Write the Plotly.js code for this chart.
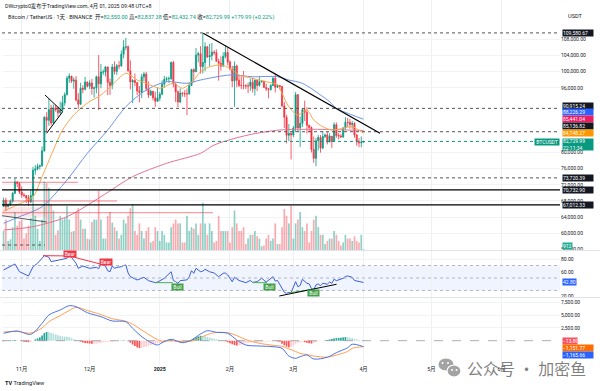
<!DOCTYPE html>
<html><head><meta charset="utf-8">
<script src="https://cdn.plot.ly/plotly-3.0.1.min.js"></script>
<style>html,body{margin:0;padding:0;background:#fff;}#chart{width:600px;height:391px;}</style>
</head><body><div id="chart"></div>
<script>
// ---------------- DATA ----------------
const firstDay = [2024, 9, 24]; // 2024-10-24, daily candles to 2025-04-01
const open = [
 66650,68150,66600,67000,67950,69900,72700,72350,
 70200,69500,69350,68750,67800,69350,75600,75900,76550,76700,80400,88700,87950,90600,87300,91050,90600,89850,90450,92300,94300,98350,98900,97650,97900,93000,91950,95900,95650,97450,
 96400,97200,95850,96000,98750,97000,99900,99900,101150,97350,96600,101150,100050,101450,101400,104300,106050,106150,100200,97450,97800,97300,95200,94900,98700,99400,95800,94200,95150,93550,92650,
 93450,94400,96900,98100,98250,98300,102250,96950,95050,92500,94700,94550,94500,94500,96550,100500,99950,104100,104450,101250,102250,106150,103650,103950,104800,104700,102550,102050,101350,103750,104750,
 102400,100650,97700,101400,97900,96600,96550,96500,96450,96450,97400,95800,97850,96600,97500,97600,96100,95750,95550,96600,98350,96150,96600,96300,91550,88700,84250,84700,
 84350,86050,94300,86100,87200,90600,89950,86750,86150,80750,78550,82900,83700,81100,83950,84350,82600,84050,82700,86850,84200,84100,83850,86100,87500,87450,86900,87200,84350,82650,82400,
 82550];
const high = [
 68850,68800,67450,68400,70250,73600,72950,72700,
 71600,70000,69400,69500,70600,76450,76900,77250,77000,81500,89000,89950,93250,91800,91850,91800,91450,92600,94000,94900,98950,99600,98950,98550,98900,94650,97250,96650,98700,97500,
 97850,98200,96300,99000,104100,101900,100550,101400,101250,98300,101900,102550,101900,102650,105250,107800,108350,106500,102800,98150,99550,97450,96450,99450,99950,99950,97550,95550,95200,95000,96200,
 94950,97850,98950,98750,98800,102500,102700,97250,95350,95850,95000,95400,95850,97350,100700,100800,105850,104950,106300,109580,107250,106400,106850,107100,105300,105500,103200,103750,104800,106450,106000,
 102800,101450,102500,101750,99000,99150,100150,96900,97300,98300,98500,98100,98000,98800,97950,97700,97000,96000,96900,98700,99500,96900,96650,96500,92500,89300,87050,85100,
 86550,95000,94400,88900,91000,92800,91200,86850,86450,83950,83600,84350,84300,85300,84650,85100,84750,84050,87450,87450,84800,84550,86150,88750,88550,88300,87800,87500,84600,83550,83950,
 82837.38];
const low = [
 66500,65500,66450,66750,67550,69700,71450,69700,
 68800,68900,67500,66800,67500,69350,74500,75600,75800,76500,80200,85100,86600,86700,87050,90100,88750,89400,90350,91550,94100,97200,97200,95750,92600,90800,91800,94650,95350,96100,
 95700,94300,93600,94650,90500,95900,99200,98800,94200,94250,95650,99300,99200,100600,101250,103300,105300,100000,95600,92200,96400,94200,92400,93450,97600,95150,93500,94000,92900,91300,92550,
 92700,94200,96000,97500,97250,97900,96100,92500,91200,92200,93800,93700,89250,94300,96500,97300,99950,102300,99500,99550,100100,103350,101250,102750,104100,102500,97750,100250,101300,103300,101550,
 100300,96150,91250,96150,96200,95700,95600,95700,94700,95250,94850,94100,95200,96300,97250,96050,95200,93400,95300,96450,94850,95950,95600,91200,86050,82250,82800,78250,
 83800,85050,85100,81400,86300,87800,84700,85000,80000,77450,76600,80550,79950,80800,83600,82000,82500,81150,82600,83650,83200,83650,83600,85550,86300,85900,85850,83650,81650,81300,81300,
 82432.74];
const close = [
 68150,66600,67000,67950,69900,72700,72350,70200,
 69500,69350,68750,67800,69350,75600,75900,76550,76700,80400,88700,87950,90600,87300,91050,90600,89850,90450,92300,94300,98350,98900,97650,97900,93000,91950,95900,95650,97450,96400,
 97200,95850,96000,98750,97000,99900,99900,101150,97350,96600,101150,100050,101450,101400,104300,106050,106150,100200,97450,97800,97300,95200,94900,98700,99400,95800,94200,95150,93550,92650,93450,
 94400,96900,98100,98250,98300,102250,96950,95050,92500,94700,94550,94500,94500,96550,100500,99950,104100,104450,101250,102250,106150,103650,103950,104800,104700,102550,102050,101350,103750,104750,102400,
 100650,97700,101400,97900,96600,96550,96500,96450,96450,97400,95800,97850,96600,97500,97600,96100,95750,95550,96600,98350,96150,96600,96300,91550,88700,84250,84700,84350,
 86050,94300,86100,87200,90600,89950,86750,86150,80750,78550,82900,83700,81100,83950,84350,82600,84050,82700,86850,84200,84100,83850,86100,87500,87450,86900,87200,84350,82650,82400,82550,
 82729.99];
const volume = [
 25000,40000,12000,14000,30000,50000,32000,38000,
 40000,15000,22000,32000,42000,85000,45000,28000,12000,40000,90000,88000,82000,60000,52000,20000,26000,45000,40000,42000,58000,40000,24000,25000,50000,55000,40000,28000,28000,15000,
 14000,37000,40000,40000,78000,40000,15000,15000,45000,50000,36000,30000,25000,15000,20000,40000,35000,45000,55000,60000,25000,20000,35000,25000,15000,25000,30000,10000,12000,30000,25000,
 12000,25000,20000,10000,10000,30000,35000,40000,35000,35000,10000,10000,45000,25000,30000,28000,35000,20000,35000,62000,35000,20000,35000,25000,10000,12000,45000,25000,25000,25000,25000,
 10000,30000,52000,35000,25000,25000,30000,8000,15000,20000,20000,25000,18000,15000,5000,6000,15000,20000,12000,15000,35000,8000,8000,30000,54000,45000,35000,58000,
 15000,35000,40000,50000,30000,25000,35000,10000,25000,40000,45000,30000,20000,20000,8000,12000,15000,15000,25000,20000,12000,6000,10000,20000,15000,15000,12000,18000,12000,10000,20000,
 912];
const macdHist = [
 -100,-50,0,50, 100,150,100,0, -100,-200,-260,-280,-250, 0,250,450,650,1000, 1500,1700,1650,
 1500,1400,1200,1050,950,850,800,750, 700,500,300,150,50,
 -200,-350,-450,-500,-550,-600,-600,-550,-500,-400,
 -300,-250,-200,-150,-150,-100,-50,0,50,100,80,
 -100,-400,-750,-1050,-1300,-1430,-1400,-1300,-1150,-1000,-850,-700,
 -600,-500,-400,-300,-200,-100,0,100,
 0,-150,-250,-300,-280,-220,-150,-50,
 150,400,650,850,950,920,850,750,
 600,500,400,300,200,100,50,
 -100,-300,-500,-700,-850,-950,-900,-800,-650,-500,-400,
 -350,-300,-280,-250,-220,-200,-180,-150,-150,-120,-100,-100,-150,-200,
 -600,-900,-1150,-1300,-1250,
 -1000,-600,-400,-300,-200,-300,-400,-500,
 -550,-450, -300,-150,-50,0,80,
 150,250,350,450,500,550,600,650,700,680,
 600,500,380,250,120,40,-13.89];
const macdDates = ['2024-10-24','2024-10-30','2024-11-05','2024-11-10','2024-11-13','2024-11-18','2024-11-22','2024-11-25','2024-11-30','2024-12-06','2024-12-11','2024-12-17','2024-12-20','2024-12-25','2024-12-31','2025-01-02','2025-01-06','2025-01-11','2025-01-15','2025-01-19','2025-01-22','2025-01-26','2025-01-31','2025-02-04','2025-02-08','2025-02-14','2025-02-20','2025-02-24','2025-02-27','2025-03-02','2025-03-04','2025-03-07','2025-03-10','2025-03-16','2025-03-20','2025-03-25','2025-03-27','2025-04-01'];
const macdLine = [1445,1900,1250,3400,5020,6000,6840,6640,5470,4690,3850,3710,2420,470,-840,-390,270,-390,140,1310,1950,1640,1445,140,-840,-1035,-1170,-1490,-2990,-3440,-3125,-2790,-3570,-3240,-2340,-1370,-700,-1165.66];
const signalLine = [1700,1800,1500,2500,3700,4900,5900,6520,5900,5100,4300,3800,3200,1800,200,-100,0,-200,-100,600,1200,1600,1550,1000,200,-500,-900,-1100,-1600,-2100,-2500,-2700,-3000,-3200,-2800,-2100,-1500,-1151.77];
const rsiDates = ['2024-10-24','2024-10-29','2024-10-31','2024-11-04','2024-11-06','2024-11-08','2024-11-11','2024-11-13','2024-11-14','2024-11-18','2024-11-21','2024-11-22','2024-11-23','2024-11-25','2024-11-26','2024-11-28','2024-12-01','2024-12-04','2024-12-05','2024-12-06','2024-12-08','2024-12-09','2024-12-10','2024-12-11','2024-12-12','2024-12-13','2024-12-15','2024-12-16','2024-12-17','2024-12-18','2024-12-19','2024-12-22','2024-12-24','2024-12-25','2024-12-27','2024-12-30','2024-12-31','2025-01-03','2025-01-06','2025-01-07','2025-01-08','2025-01-09','2025-01-10','2025-01-13','2025-01-14','2025-01-15','2025-01-16','2025-01-17','2025-01-19','2025-01-20','2025-01-21','2025-01-23','2025-01-25','2025-01-27','2025-01-29','2025-01-30','2025-01-31','2025-02-02','2025-02-03','2025-02-05','2025-02-08','2025-02-10','2025-02-11','2025-02-13','2025-02-15','2025-02-17','2025-02-20','2025-02-21','2025-02-22','2025-02-24','2025-02-25','2025-02-26','2025-02-27','2025-02-28','2025-03-02','2025-03-03','2025-03-04','2025-03-05','2025-03-06','2025-03-07','2025-03-08','2025-03-09','2025-03-10','2025-03-11','2025-03-12','2025-03-13','2025-03-14','2025-03-16','2025-03-17','2025-03-18','2025-03-19','2025-03-20','2025-03-23','2025-03-24','2025-03-25','2025-03-27','2025-03-28','2025-03-30','2025-04-01'];
const rsiValues = [62.8,72.5,60.1,53.2,68.1,73.6,85.8,83.2,76.2,78.9,81.6,85.3,83.0,73.6,65.5,69.2,65.5,67.1,65.0,72.5,69.0,61.7,60.0,69.2,65.5,67.0,68.1,70.0,70.9,58.0,52.1,46.8,50.0,51.0,45.7,42.5,43.5,49.5,60.1,46.0,44.1,41.5,45.7,47.0,52.0,61.7,57.5,65.5,60.1,61.0,63.9,60.0,58.0,52.1,57.5,58.0,54.8,44.1,51.1,46.0,42.5,46.0,43.0,44.1,49.5,43.5,52.1,45.0,46.0,31.9,27.0,25.4,27.0,26.4,44.1,36.0,38.0,47.9,45.0,41.5,40.5,33.0,30.7,39.0,40.4,37.5,41.5,40.0,43.6,41.5,48.0,45.7,49.5,52.5,53.2,51.1,46.0,44.1,42.8];
const maFastDates = ['2024-10-24','2024-10-31','2024-11-06','2024-11-10','2024-11-15','2024-11-19','2024-11-24','2024-11-30','2024-12-06','2024-12-11','2024-12-17','2024-12-22','2024-12-26','2025-01-01','2025-01-07','2025-01-11','2025-01-16','2025-01-19','2025-01-23','2025-01-28','2025-02-01','2025-02-05','2025-02-11','2025-02-17','2025-02-22','2025-02-24','2025-02-27','2025-03-03','2025-03-07','2025-03-10','2025-03-14','2025-03-18','2025-03-23','2025-03-27','2025-04-01'];
const maFast = [65500,67300,69059,74007,80613,85561,89272,92241,94220,96694,99588,97931,97114,95877,97114,95877,97931,99984,101221,101642,100825,99168,98351,97510,96694,94640,91325,89272,90509,88035,86377,85561,85981,86377,84748.27];
const maMidDates = ['2024-10-24','2024-10-31','2024-11-10','2024-11-21','2024-11-30','2024-12-09','2024-12-17','2024-12-26','2025-01-04','2025-01-13','2025-01-19','2025-02-01','2025-02-11','2025-02-22','2025-02-27','2025-03-05','2025-03-13','2025-03-17','2025-03-20','2025-03-27','2025-04-01'];
const maMid = [62478,64111,66585,73191,79796,85561,91325,95457,97510,97114,97931,99168,98747,98747,97931,97114,94220,92562,90929,89272,88226.29];
const maSlowDates = ['2024-10-24','2024-11-06','2024-11-21','2024-12-06','2024-12-20','2025-01-04','2025-01-19','2025-01-25','2025-02-09','2025-02-23','2025-03-10','2025-03-25','2025-04-01'];
const maSlow = [60821,61637,64111,69059,74007,77322,79796,81850,84324,85561,85734,85561,85441.04];
const levelDotted = [109580.67, 90915.24, 85136.82, 73720.39];
const levelSolid = [70732.90, 67012.33];
const lastPrice = 82729.99;
const monthTicks = ['2024-11-01','2024-12-01','2025-01-01','2025-02-01','2025-03-01','2025-04-01','2025-05-01','2025-06-01'];
const monthLabels = ['11月','12月','<b>2025</b>','2月','3月','4月','5月','6月'];
const priceTicks = [56000,60000,64000,68000,72000,76000,80000,96000,100000,104000,108000];
const rsiTicks = [20,60,80];
const macdTicks = [2500,5000,7500];

// ---------------- BUILD ----------------
const dates = close.map((_, i) => {
  const d = new Date(Date.UTC(firstDay[0], firstDay[1], firstDay[2] + i));
  return d.toISOString().slice(0, 10);
});
const L=2,R=40,T=0,B=26,W=600,H=391;
const PW=W-L-R, PH=H-T-B;
const px = x => (x-L)/PW;
const py = y => (T+PH-y)/PH;
const FONT = 'Roboto, "Noto Sans CJK SC", sans-serif';
const UP='#089981', DN='#f23645';

const volColors = close.map((c,i)=> c>=open[i] ? 'rgba(8,153,129,0.45)' : 'rgba(242,54,69,0.42)');
const histColors = macdHist.map((h,i)=>{
  const p = i>0 ? macdHist[i-1] : 0;
  if (h>=0) return h>=p ? '#26a69a' : '#b2dfdb';
  return h<p ? '#ff5252' : '#ffcdd2';
});

const traces = [
  {type:'bar', x:dates, y:volume, yaxis:'y', marker:{color:volColors}, hoverinfo:'skip'},
  {type:'bar', x:dates, y:macdHist, yaxis:'y3', marker:{color:histColors}, hoverinfo:'skip'},
  {type:'scatter', mode:'lines', x:macdDates, y:signalLine, yaxis:'y3', line:{color:'#ff9f50', width:1, shape:'spline', smoothing:0.9}},
  {type:'scatter', mode:'lines', x:macdDates, y:macdLine, yaxis:'y3', line:{color:'#4a73e8', width:1, shape:'spline', smoothing:0.9}},
  {type:'scatter', mode:'lines', x:rsiDates, y:rsiValues, yaxis:'y2', line:{color:'#3a5fd9', width:1}},
  {type:'scatter', mode:'lines', x:maSlowDates, y:maSlow, yaxis:'y4', line:{color:'#e5738f', width:1, shape:'spline', smoothing:0.8}},
  {type:'scatter', mode:'lines', x:maMidDates, y:maMid, yaxis:'y4', line:{color:'#6e93e8', width:1, shape:'spline', smoothing:0.8}},
  {type:'scatter', mode:'lines', x:maFastDates, y:maFast, yaxis:'y4', line:{color:'#f7a94f', width:1, shape:'spline', smoothing:0.8}},
  {type:'candlestick', x:dates, open:open, high:high, low:low, close:close, yaxis:'y4',
   increasing:{line:{color:UP,width:0.8}, fillcolor:UP}, decreasing:{line:{color:DN,width:0.8}, fillcolor:DN},
   whiskerwidth:0, hoverinfo:'skip'}
];

const shapes = [];
[250.5, 297.5].forEach(y=>shapes.push({type:'line', xref:'paper', yref:'paper', x0:px(0), x1:px(600), y0:py(y), y1:py(y), line:{color:'#e0e3eb', width:1}}));
levelDotted.forEach(v=>shapes.push({type:'line', xref:'paper', yref:'y4', x0:0, x1:1, y0:v, y1:v, line:{color:'#50535e', width:1, dash:'dot'}}));
levelSolid.forEach(v=>shapes.push({type:'line', xref:'paper', yref:'y4', x0:0, x1:1, y0:v, y1:v, line:{color:'#000000', width:1.2}}));
shapes.push({type:'line', xref:'paper', yref:'y4', x0:0, x1:1, y0:lastPrice, y1:lastPrice, line:{color:UP, width:1, dash:'dot'}});
const seg = (x0,y0,x1,y1,color,width,dash,yref)=>({type:'line', xref:'x', yref:yref||'y4', x0,y0,x1,y1, line:{color, width, dash:dash||'solid'}});
shapes.push(seg('2025-01-20 05:00',109484,'2025-04-08 07:00',84744,'#000',1.2));
shapes.push(seg('2024-11-11 07:00',94220,'2024-11-19 02:00',90088,'#000',1));
shapes.push(seg('2024-11-19 02:00',90088,'2024-11-12 00:00',84744,'#000',1));
shapes.push(seg('2024-10-23 08:00',72622,'2024-11-25 22:00',72622,'rgba(242,54,69,0.6)',1));
shapes.push(seg('2024-10-23 08:00',68000,'2024-12-13 02:00',68000,'rgba(242,54,69,0.6)',1));
shapes.push(seg('2024-10-23 08:00',65100,'2025-01-24 12:00',65100,'rgba(242,54,69,0.6)',1));
shapes.push({type:'rect', xref:'x', yref:'y4', x0:'2024-10-23 08:00', x1:'2024-11-12 00:00', y0:64100, y1:66500, fillcolor:'rgba(242,54,69,0.12)', line:{width:0}});
shapes.push(seg('2024-10-23 08:00',64357,'2024-11-12 00:00',62800,'#333',0.8));
shapes.push(seg('2024-10-23 08:00',57110,'2024-11-11 07:00',57110,'#333',0.8,'dot'));
shapes.push({type:'rect', xref:'paper', yref:'y2', x0:0, x1:1, y0:30, y1:70, fillcolor:'rgba(41,98,255,0.07)', line:{width:0}, layer:'below'});
[70,50,30].forEach(v=>shapes.push({type:'line', xref:'paper', yref:'y2', x0:0, x1:1, y0:v, y1:v, line:{color:'#a3a6af', width:0.8, dash:'dot'}}));
shapes.push(seg('2024-11-10 10:00',85.8,'2024-11-23 05:00',85.3,'#f23645',1,null,'y2'));
shapes.push(seg('2024-11-23 05:00',84.2,'2024-12-05 14:00',72.5,'#f23645',1,null,'y2'));
shapes.push(seg('2024-12-29 22:00',42.5,'2025-01-06 19:00',42.5,'#4caf50',1,null,'y2'));
shapes.push(seg('2025-02-11 05:00',42.5,'2025-02-17 07:00',42.5,'#4caf50',1,null,'y2'));
shapes.push(seg('2025-02-27 12:00',26.4,'2025-03-09 19:00',31.9,'#4caf50',1,null,'y2'));
shapes.push(seg('2025-02-22 19:00',21.1,'2025-03-20 02:00',39.9,'#000',1,null,'y2'));
shapes.push({type:'line', xref:'paper', yref:'y3', x0:0, x1:1, y0:0, y1:0, line:{color:'#9598a1', width:0.8, dash:'dash'}});
// watermark icon
shapes.push({type:'circle', xref:'paper', yref:'paper', x0:px(438), x1:px(454), y0:py(371), y1:py(358), fillcolor:'#a3a3a3', line:{color:'#ffffff', width:1}});
shapes.push({type:'circle', xref:'paper', yref:'paper', x0:px(447), x1:px(461), y0:py(377), y1:py(365), fillcolor:'#a3a3a3', line:{color:'#ffffff', width:1.2}});
[[442.5,363],[448,363],[452,370],[456.5,370]].forEach(p=>shapes.push({type:'circle', xref:'paper', yref:'paper', x0:px(p[0]-1), x1:px(p[0]+1), y0:py(p[1]+1), y1:py(p[1]-1), fillcolor:'#ffffff', line:{width:0}}));

const ann = [];
const label = (text, x, y, bg, opts={}) => ann.push(Object.assign({xref:'paper', yref:'paper', x:px(x), y:py(y), xanchor:'left', yanchor:'middle', text, showarrow:false, bgcolor:bg, borderpad:0, height:6, font:{size:5, color:'#ffffff', family:FONT}, align:'left', valign:'middle'}, opts));
label('109,580.67', 562, 33.3, '#131722', {width:30});
label('90,915.24', 562, 106, '#131722', {width:30});
label('88,226.29', 562, 112.2, '#2962ff', {width:30});
label('85,441.04', 562, 118.9, '#e91e63', {width:30});
label('85,136.82', 562, 125.6, '#131722', {width:30});
label('84,748.27', 562, 132.6, '#ff9800', {width:30});
label('82,729.99<br>22:11:34', 562, 144.5, UP, {width:30, height:11});
label('BTCUSDT', 560, 142, UP, {xanchor:'right', width:24, align:'center'});
label('73,720.39', 562, 178.3, '#131722', {width:30});
label('70,732.90', 562, 190, '#131722', {width:30});
label('67,012.33', 562, 205, '#131722', {width:30});
label('912', 562, 246.5, '#22ab94', {width:9});
label('42.80', 562, 282.4, '#2962ff', {width:13});
label('−13.89', 562, 340.7, '#f7525f', {width:14});
label('−1,151.77', 562, 347.7, '#ff6d00', {width:30});
label('−1,165.66', 562, 354.7, '#2962ff', {width:30});
label('Bear', 70, 253.5, '#f23645', {xanchor:'center', width:12, align:'center'});
label('Bear', 105.5, 261.7, '#f23645', {xanchor:'center', width:12, align:'center'});
label('Bull', 177.5, 286.7, '#43a047', {xanchor:'center', width:11, align:'center'});
label('Bull', 269, 286.7, '#43a047', {xanchor:'center', width:11, align:'center'});
label('Bull', 313, 293.3, '#43a047', {xanchor:'center', width:11, align:'center'});
const txt = (text, x, y, size, color, extra={}) => ann.push(Object.assign({xref:'paper', yref:'paper', x:px(x), y:py(y), xanchor:'left', yanchor:'middle', text, showarrow:false, font:{size, color, family:FONT}}, extra));
const g = s => '<span style="color:#089981">'+s+'</span>';
txt('DWcrypto0发布于TradingView.com, 4月 01, 2025 09:48 UTC+8', 3, 5.8, 5.3, '#131722');
txt('Bitcoin / TetherUS · 1天 · BINANCE  开='+g('82,550.00')+' 高='+g('82,837.38')+' 低='+g('82,432.74')+' 收='+g('82,729.99')+' '+g('+179.99 (+0.22%)'), 6, 16.7, 5.5, '#131722');
txt('USDT', 566, 16.3, 5.6, '#131722');
txt('<b>TV</b> TradingView', 3, 383, 5.6, '#131722');
txt('公众号 · 加密鱼', 465, 367.5, 16, 'rgba(105,105,105,0.85)', {font:{size:16, color:'rgba(105,105,105,0.85)', family:'"Noto Sans CJK SC", sans-serif'}});

const yCommon = {side:'right', anchor:'x', zeroline:false, showline:false, ticks:'', automargin:false, fixedrange:true, tickfont:{size:5, color:'#131722', family:FONT}, showgrid:true, gridcolor:'#f2f3f6', gridwidth:1};
const layout = {
  width:W, height:H, margin:{l:L, r:R, t:T, b:B, pad:0},
  paper_bgcolor:'#ffffff', plot_bgcolor:'#ffffff', showlegend:false, bargap:0.25,
  font:{family:FONT, size:5, color:'#131722'},
  xaxis:{type:'date', range:['2024-10-23 07:00','2025-06-26 19:00'], anchor:'y3', tickvals:monthTicks, ticktext:monthLabels,
         tickfont:{size:5.3, color:'#131722', family:FONT}, showgrid:true, gridcolor:'#eef0f4', gridwidth:1,
         zeroline:false, showline:false, ticks:'', rangeslider:{visible:false}, automargin:false, fixedrange:true},
  yaxis:{domain:[py(250),1], range:[0,329000], visible:false, fixedrange:true},
  yaxis4:Object.assign({}, yCommon, {overlaying:'y', range:[55873,117723], tickvals:priceTicks, tickformat:',.2f'}),
  yaxis2:Object.assign({}, yCommon, {domain:[py(297),py(251)], range:[19.5,93.3], tickvals:rsiTicks, tickformat:'.2f'}),
  yaxis3:Object.assign({}, yCommon, {domain:[0,py(298)], range:[-4746,8340], tickvals:macdTicks, tickformat:',.2f'}),
  shapes:shapes, annotations:ann
};
Plotly.newPlot('chart', traces, layout, {displayModeBar:false, staticPlot:true});
</script>
</body></html>
